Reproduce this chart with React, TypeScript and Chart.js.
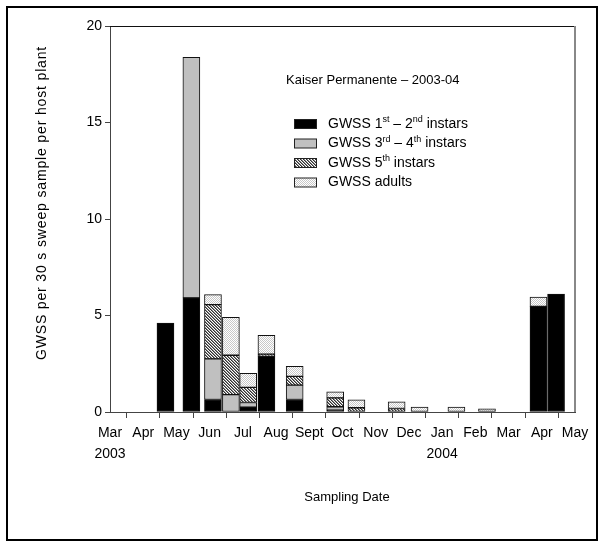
import React, { useEffect, useRef } from "react";
import { Chart, registerables } from "chart.js";
Chart.register(...registerables);

// ---- data ----
const monthTicks = ["Mar", "Apr", "May", "Jun", "Jul", "Aug", "Sept", "Oct", "Nov", "Dec", "Jan", "Feb", "Mar", "Apr", "May"];
const yearTicks: Record<number, string> = { 0: "2003", 10: "2004" };
// sampling dates, in months since 1 Mar 2003
const sampleMonth = [1.67, 2.45, 3.1, 3.64, 4.16, 4.71, 5.56, 6.78, 7.42, 8.63, 9.32, 10.43, 11.35, 12.9, 13.43];
const instars12 = [4.61, 5.91, 0.65, 0, 0.25, 2.89, 0.65, 0.1, 0, 0, 0, 0, 0, 5.47, 6.11];
const instars34 = [0, 12.47, 2.1, 0.9, 0.24, 0, 0.74, 0.17, 0, 0, 0, 0, 0, 0, 0];
const instars5 = [0, 0, 2.81, 2.04, 0.79, 0.11, 0.46, 0.46, 0.22, 0.18, 0, 0, 0, 0, 0];
const adults = [0, 0, 0.52, 1.96, 0.73, 0.97, 0.52, 0.31, 0.41, 0.35, 0.25, 0.25, 0.17, 0.49, 0];
const seriesNames = ["GWSS 1st – 2nd instars", "GWSS 3rd – 4th instars", "GWSS 5th instars", "GWSS adults"];
// legend text with superscript parts (1 = superscript)
const legendLabels: [string, number][][] = [
  [["GWSS 1", 0], ["st", 1], [" – 2", 0], ["nd", 1], [" instars", 0]],
  [["GWSS 3", 0], ["rd", 1], [" – 4", 0], ["th", 1], [" instars", 0]],
  [["GWSS 5", 0], ["th", 1], [" instars", 0]],
  [["GWSS adults", 0]],
];
const chartTitle = "Kaiser Permanente – 2003-04";
const yTitle = "GWSS per 30 s sweep sample per host plant";
const xTitle = "Sampling Date";

const FONT = "'Liberation Sans', Arial, sans-serif";

function makeHatch(): CanvasPattern | string {
  const c = document.createElement("canvas");
  c.width = 3;
  c.height = 3;
  const g = c.getContext("2d");
  if (!g) return "#888";
  g.fillStyle = "#ffffff";
  g.fillRect(0, 0, 3, 3);
  g.fillStyle = "#303030";
  // diagonal "\" line, one pixel per row
  g.fillRect(0, 0, 1, 1);
  g.fillRect(1, 1, 1, 1);
  g.fillRect(2, 2, 1, 1);
  g.fillStyle = "#8a8a8a";
  g.fillRect(1, 0, 1, 1);
  g.fillRect(2, 1, 1, 1);
  g.fillRect(0, 2, 1, 1);
  return g.createPattern(c, "repeat") || "#888";
}

function makeDots(): CanvasPattern | string {
  const c = document.createElement("canvas");
  c.width = 2;
  c.height = 2;
  const g = c.getContext("2d");
  if (!g) return "#eee";
  g.fillStyle = "#ffffff";
  g.fillRect(0, 0, 2, 2);
  g.fillStyle = "#c8c8c8";
  g.fillRect(0, 0, 1, 1);
  g.fillRect(1, 1, 1, 1);
  return g.createPattern(c, "repeat") || "#eee";
}

export default function App() {
  const ref = useRef<HTMLCanvasElement | null>(null);

  useEffect(() => {
    const canvas = ref.current;
    if (!canvas) return;
    const hatch = makeHatch();
    const dots = makeDots();
    const fills: (string | CanvasPattern)[] = ["#000000", "#c0c0c0", hatch, dots];
    const series = [instars12, instars34, instars5, adults];

    const decorPlugin = {
      id: "decor",
      afterDraw(chart: any) {
        const ctx = chart.ctx as CanvasRenderingContext2D;
        const a = chart.chartArea;
        ctx.save();
        // top and right frame of the plot
        ctx.strokeStyle = "#111";
        ctx.lineWidth = 1;
        ctx.beginPath();
        ctx.moveTo(a.left, a.top + 0.5);
        ctx.lineTo(a.right, a.top + 0.5);
        ctx.stroke();
        ctx.strokeStyle = "#888";
        ctx.lineWidth = 2;
        ctx.beginPath();
        ctx.moveTo(a.right, a.top);
        ctx.lineTo(a.right, a.bottom);
        ctx.stroke();

        ctx.fillStyle = "#000";
        // y title
        ctx.font = `14px ${FONT}`;
        ctx.textAlign = "center";
        ctx.textBaseline = "middle";
        ctx.save();
        (ctx as any).letterSpacing = "0.85px";
        ctx.translate(34, 195);
        ctx.rotate(-Math.PI / 2);
        ctx.fillText(yTitle, 0, 0);
        ctx.restore();
        (ctx as any).letterSpacing = "0px";
        // x title
        ctx.font = `13px ${FONT}`;
        ctx.fillText(xTitle, 339, 489);

        // chart title
        ctx.textAlign = "left";
        ctx.font = `13px ${FONT}`;
        ctx.fillText(chartTitle, 278, 72);

        // legend
        const rows = [116, 135.5, 155, 174.5];
        legendLabels.forEach((parts, i) => {
          const y = rows[i];
          ctx.fillStyle = fills[i] as any;
          ctx.fillRect(286, y - 4.5, 23, 9);
          ctx.strokeStyle = "#222";
          ctx.lineWidth = 1;
          ctx.strokeRect(286.5, y - 4.5, 22, 9);
          let x = 320;
          ctx.fillStyle = "#000";
          parts.forEach(([txt, sup]) => {
            if (sup) {
              ctx.font = `9px ${FONT}`;
              ctx.fillText(txt, x, y - 4);
            } else {
              ctx.font = `14px ${FONT}`;
              ctx.fillText(txt, x, y);
            }
            x += ctx.measureText(txt).width;
          });
        });
        ctx.restore();
      },
    };

    const chart = new Chart(canvas, {
      type: "bar",
      data: {
        datasets: series.map((vals, i) => ({
          label: seriesNames[i],
          data: vals.map((v, j) => ({ x: sampleMonth[j], y: v })),
          backgroundColor: fills[i] as any,
          borderColor: "#111",
          borderWidth: 1,
          borderSkipped: false,
          barThickness: 17,
        })),
      },
      options: {
        responsive: false,
        animation: false,
        devicePixelRatio: 1,
        layout: { padding: { top: 18, right: 21, bottom: 0, left: 0 } },
        plugins: {
          legend: { display: false },
          tooltip: { enabled: false },
          title: { display: false },
        },
        scales: {
          x: {
            type: "linear",
            stacked: true,
            min: 0,
            max: 14,
            offset: false,
            afterFit: (s: any) => {
              s.height = 127;
            },
            border: { color: "#444", width: 1 },
            grid: { display: true, drawOnChartArea: false, drawTicks: true, tickLength: 6, color: "#444" },
            ticks: {
              stepSize: 1,
              autoSkip: false,
              maxRotation: 0,
              padding: 4,
              color: "#000",
              font: { family: FONT, size: 14, lineHeight: 1.55 },
              callback: (v: any) => {
                const i = Math.round(Number(v));
                const m = monthTicks[i];
                return yearTicks[i] ? [m, yearTicks[i]] : m;
              },
            },
          },
          y: {
            stacked: true,
            min: 0,
            max: 20,
            afterFit: (s: any) => {
              s.width = 102;
            },
            border: { color: "#444", width: 1 },
            grid: { display: true, drawOnChartArea: false, drawTicks: true, tickLength: 5, color: "#444" },
            ticks: {
              stepSize: 5,
              padding: 3,
              color: "#000",
              font: { family: FONT, size: 14 },
            },
          },
        },
      },
      plugins: [decorPlugin],
    } as any);
    return () => chart.destroy();
  }, []);

  return (
    <div
      style={{
        position: "absolute",
        left: 6,
        top: 6,
        width: 592,
        height: 535,
        border: "2px solid #000",
        boxSizing: "border-box",
        background: "#fff",
      }}
    >
      <canvas ref={ref} width={588} height={531} style={{ display: "block", width: 588, height: 531 }} />
    </div>
  );
}
